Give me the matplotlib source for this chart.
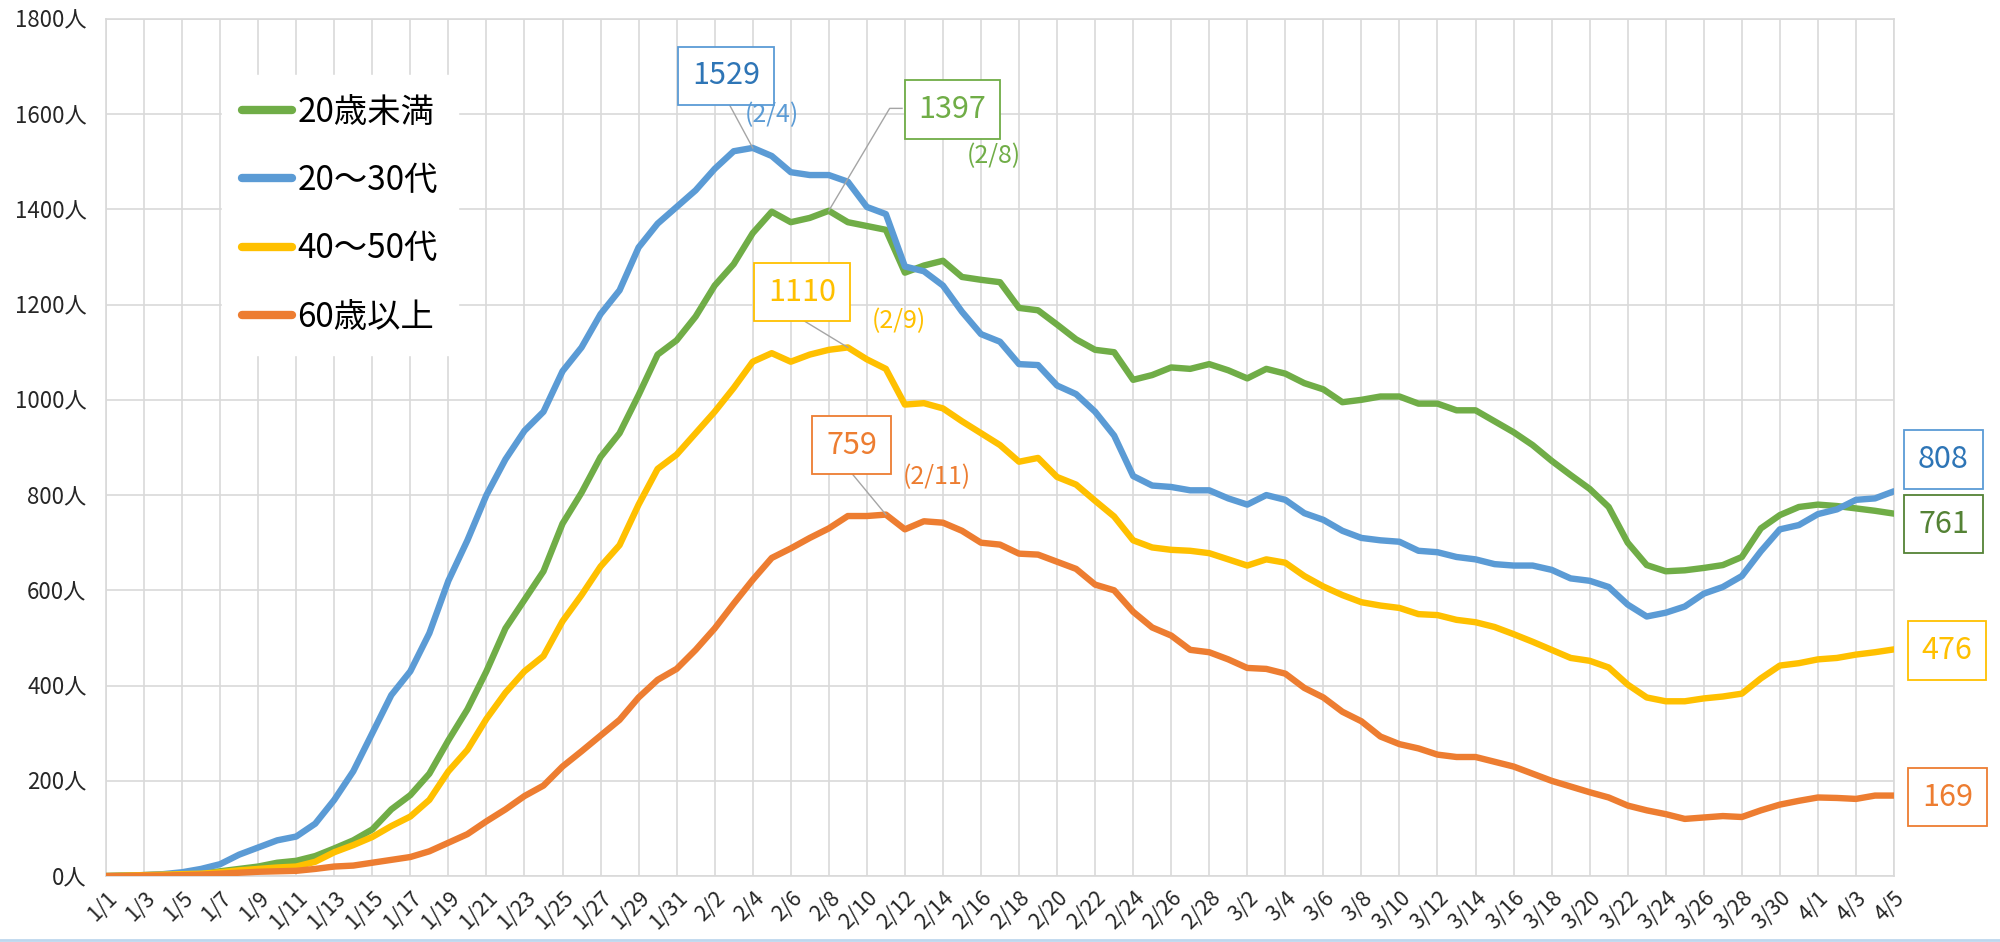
import numpy as np
import matplotlib
matplotlib.use('Agg')
import matplotlib.pyplot as plt
from matplotlib.lines import Line2D

plt.rcParams['font.family'] = ['Noto Sans CJK JP', 'DejaVu Sans']

# dates 1/1 .. 4/5 (daily)
month_days = [(1, 31), (2, 28), (3, 31), (4, 5)]
dates = [f'{m}/{d}' for m, n in month_days for d in range(1, n + 1)]

series_names = ['20歳未満', '20～30代', '40～50代', '60歳以上']
colors = ['#70AD47', '#5B9BD5', '#FFC000', '#ED7D31']

under20 = [0, 1, 2, 3, 4, 6, 10, 15, 20, 28, 32, 42, 58, 75, 98, 140, 170, 215, 285, 350,
           430, 520, 580, 640, 740, 805, 880, 930, 1010, 1095, 1125,
           1175, 1240, 1285, 1350, 1395, 1373, 1382, 1397, 1373, 1365, 1357, 1267, 1282, 1292,
           1258, 1252, 1247, 1193, 1188, 1158, 1127, 1105, 1100, 1042, 1052, 1068, 1065, 1075,
           1062, 1045, 1065, 1055, 1035, 1022, 995, 1000, 1007, 1007, 992, 992, 978, 978,
           955, 932, 905, 872, 842, 813, 775, 700, 653, 640, 642, 647, 653, 670, 730, 758,
           775, 780, 777, 772, 767, 761]
age20_30 = [0, 1, 2, 4, 8, 15, 25, 45, 60, 75, 83, 110, 160, 220, 300, 380, 430, 510, 620, 705,
            800, 875, 935, 975, 1060, 1110, 1180, 1230, 1320, 1370, 1405,
            1440, 1485, 1522, 1529, 1512, 1478, 1472, 1472, 1458, 1405, 1390, 1280, 1270, 1240,
            1185, 1138, 1122, 1075, 1073, 1030, 1012, 975, 925, 840, 820, 817, 810, 810,
            793, 780, 800, 790, 762, 748, 725, 710, 705, 702, 683, 680, 670, 665,
            655, 652, 652, 643, 625, 620, 607, 570, 545, 553, 566, 593, 607, 630, 682, 728,
            737, 760, 770, 790, 793, 808]
age40_50 = [0, 1, 2, 3, 4, 5, 8, 12, 15, 18, 20, 30, 50, 65, 82, 105, 125, 160, 220, 265,
            330, 385, 430, 462, 535, 590, 650, 695, 780, 855, 885,
            930, 975, 1025, 1080, 1098, 1080, 1095, 1105, 1110, 1085, 1065, 990, 993, 982,
            955, 930, 905, 870, 878, 838, 822, 788, 755, 705, 690, 685, 683, 678,
            665, 652, 665, 658, 630, 608, 590, 575, 568, 563, 550, 548, 538, 533,
            523, 508, 492, 475, 458, 452, 438, 402, 375, 367, 367, 373, 377, 383, 415, 442,
            447, 455, 458, 465, 470, 476]
over60 = [0, 0, 1, 1, 2, 3, 5, 7, 9, 10, 11, 15, 20, 22, 28, 34, 40, 52, 70, 88,
          115, 140, 168, 190, 230, 262, 295, 328, 375, 412, 435,
          475, 520, 572, 622, 668, 688, 710, 730, 756, 756, 759, 728, 745, 742,
          725, 700, 696, 677, 675, 660, 645, 612, 600, 555, 522, 505, 475, 470,
          455, 437, 435, 425, 395, 375, 345, 325, 293, 277, 268, 255, 250, 250,
          240, 230, 215, 200, 188, 176, 165, 148, 138, 130, 120, 123, 126, 124, 138, 150,
          158, 165, 164, 162, 169, 169]

fig = plt.figure(figsize=(20, 9.42), dpi=100)
ax = fig.add_axes([0.053, 0.070, 0.894, 0.910])

x = np.arange(len(dates))
all_series = [under20, age20_30, age40_50, over60]
for vals, name, c in zip(all_series, series_names, colors):
    ax.plot(x, vals, color=c, lw=4.6, label=name,
            solid_joinstyle='round', solid_capstyle='round', zorder=3)

ax.set_xlim(0, len(dates) - 1)
ax.set_ylim(0, 1800)
ax.set_yticks(range(0, 1801, 200))
ax.set_yticklabels([f'{v}人' for v in range(0, 1801, 200)])
ax.set_xticks(x[::2])
ax.set_xticklabels(dates[::2], rotation=45, ha='right', rotation_mode='anchor')
ax.tick_params(axis='y', length=0, pad=14, labelsize=16, labelcolor='#262626')
ax.tick_params(axis='x', length=0, pad=8, labelsize=15.5, labelcolor='#262626')
ax.grid(True, color='#D9D9D9', lw=1.2, zorder=0)
ax.set_axisbelow(True)
for s in ax.spines.values():
    s.set_color('#D9D9D9')
    s.set_linewidth(1.2)

leg = ax.legend(loc='upper left', bbox_to_anchor=(0.065, 0.935), borderaxespad=0,
                fontsize=24, frameon=True, framealpha=1, facecolor='white',
                edgecolor='white', fancybox=False, handlelength=1.5,
                handletextpad=0.15, labelspacing=1.0, borderpad=0.6)
for h in leg.get_lines():
    h.set_linewidth(6)
    h.set_solid_capstyle('round')
leg.set_zorder(5)

# peak annotations
peaks = [
    # value, date index, text pos, date text, date pos, text color, edge color, leader start
    (1529, 34, (32.6, 1680), '(2/4)', (35.0, 1597), '#2E75B6', '#5B9BD5', (32.65, 1629)),
    (1397, 38, (44.5, 1610), '(2/8)', (46.7, 1512), '#70AD47', '#70AD47', (41.85, 1612)),
    (1110, 39, (36.6, 1226), '(2/9)', (41.7, 1165), '#FFC000', '#FFC000', (36.65, 1167)),
    (759, 41, (39.2, 905), '(2/11)', (43.7, 838), '#ED7D31', '#ED7D31', (39.2, 846)),
]
for val, idx, tpos, dtxt, dpos, tc, ec, lstart in peaks:
    if val == 1397:
        ax.plot([lstart[0], 41.2, idx], [lstart[1], lstart[1], val], color='#A5A5A5', lw=1, zorder=4)
    else:
        ax.plot([lstart[0], idx], [lstart[1], val], color='#A5A5A5', lw=1, zorder=4)
    ax.text(tpos[0], tpos[1], str(val), color=tc, fontsize=22, ha='center', va='center', zorder=6,
            bbox=dict(boxstyle='square,pad=0.45', fc='white', ec=ec, lw=1.3))
    ax.text(dpos[0], dpos[1], dtxt, color=ec, fontsize=18, ha='center', va='center', zorder=6)

# last value labels
ends = [
    (761, (96.6, 739), '#548235', '#548235'),
    (808, (96.6, 875), '#2E75B6', '#5B9BD5'),
    (476, (96.8, 474), '#FFC000', '#FFC000'),
    (169, (96.8, 166), '#ED7D31', '#ED7D31'),
]
for val, pos, tc, ec in ends:
    ax.text(pos[0], pos[1], str(val), color=tc, fontsize=22, ha='center', va='center',
            clip_on=False, zorder=6,
            bbox=dict(boxstyle='square,pad=0.45', fc='white', ec=ec, lw=1.3))

fig.add_artist(Line2D([0, 1], [0.002, 0.002], color='#BDD7EE', lw=2))

fig.savefig('out.png', dpi=100)
